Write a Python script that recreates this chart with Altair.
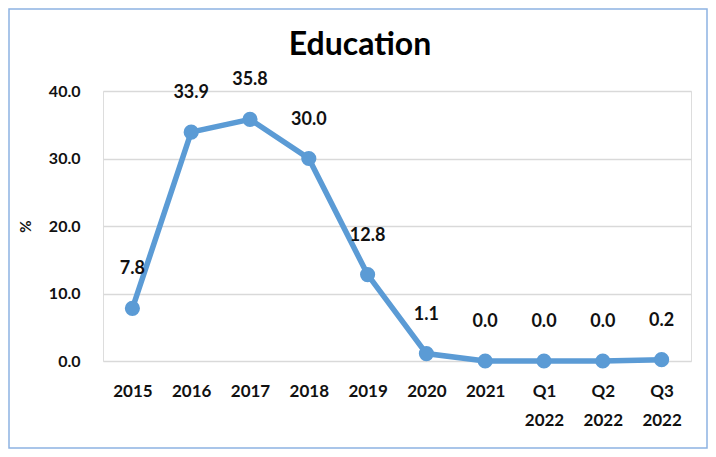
import altair as alt
import pandas as pd

categories = ["2015", "2016", "2017", "2018", "2019", "2020", "2021", "Q1 2022", "Q2 2022", "Q3 2022"]
values = [7.8, 33.9, 35.8, 30.0, 12.8, 1.1, 0.0, 0.0, 0.0, 0.2]
y_ticks = [0, 10, 20, 30, 40]

df = pd.DataFrame({"cat": categories, "val": values})
df["lbl"] = [f"{v:.1f}" for v in values]

W, H = 588, 270
FONT = "Lato"
BLUE = "#5B9BD5"

x_enc = alt.X("cat:N", sort=categories, title=None,
              scale=alt.Scale(type="point", padding=0.5),
              axis=alt.Axis(labelAngle=0, labelFont=FONT, labelFontSize=17, labelFontWeight="bold",
                            labelColor="#111111", labelPadding=22, tickSize=0, ticks=False, domain=False,
                            grid=False, labelExpr="split(datum.value, ' ')", labelLineHeight=29,
                            labelBaseline="top"))
y_enc = alt.Y("val:Q", title="%",
              scale=alt.Scale(domain=[0, 40], nice=False),
              axis=alt.Axis(values=y_ticks, format=".1f", labelFont=FONT, labelFontSize=16,
                            labelFontWeight="bold", labelColor="#111111", labelPadding=23,
                            ticks=False, tickSize=0, domain=False, grid=True, gridColor="#d9d9d9",
                            gridWidth=1.5, titleFont=FONT, titleFontSize=15, titleFontWeight="bold",
                            titleColor="#111111", titleX=-78, titleBaseline="middle", titleAngle=-90))

base = alt.Chart(df)
line = base.mark_line(color=BLUE, strokeWidth=5.5).encode(x=x_enc, y=y_enc)
pts = base.mark_circle(color=BLUE, size=230, opacity=1).encode(x=alt.X("cat:N", sort=categories), y="val:Q")
labels = base.mark_text(font=FONT, fontSize=18, fontWeight="bold", color="#111111", dy=-39,
                        baseline="middle").encode(x=alt.X("cat:N", sort=categories), y="val:Q", text="lbl:N")

title_df = pd.DataFrame({"t": ["Education"]})
title = alt.Chart(title_df).mark_text(font=FONT, fontSize=32, fontWeight="bold", color="#000000",
                                       baseline="middle", align="center").encode(
    x=alt.value(257), y=alt.value(-46), text="t:N")

border = alt.Chart(title_df).mark_rect(fill=None, filled=False, stroke="#8db3e2", strokeWidth=1.5).encode(
    x=alt.value(-94), x2=alt.value(604), y=alt.value(-82), y2=alt.value(357))

chart = alt.layer(border, line, pts, labels, title).properties(
    width=W, height=H,
    autosize=alt.AutoSizeParams(type="none"),
    padding={"left": 95, "top": 83, "right": 17, "bottom": 88},
).configure_view(stroke=None).configure(background="white")

chart.save("out.html", embed_options={"renderer": "svg", "actions": False})
